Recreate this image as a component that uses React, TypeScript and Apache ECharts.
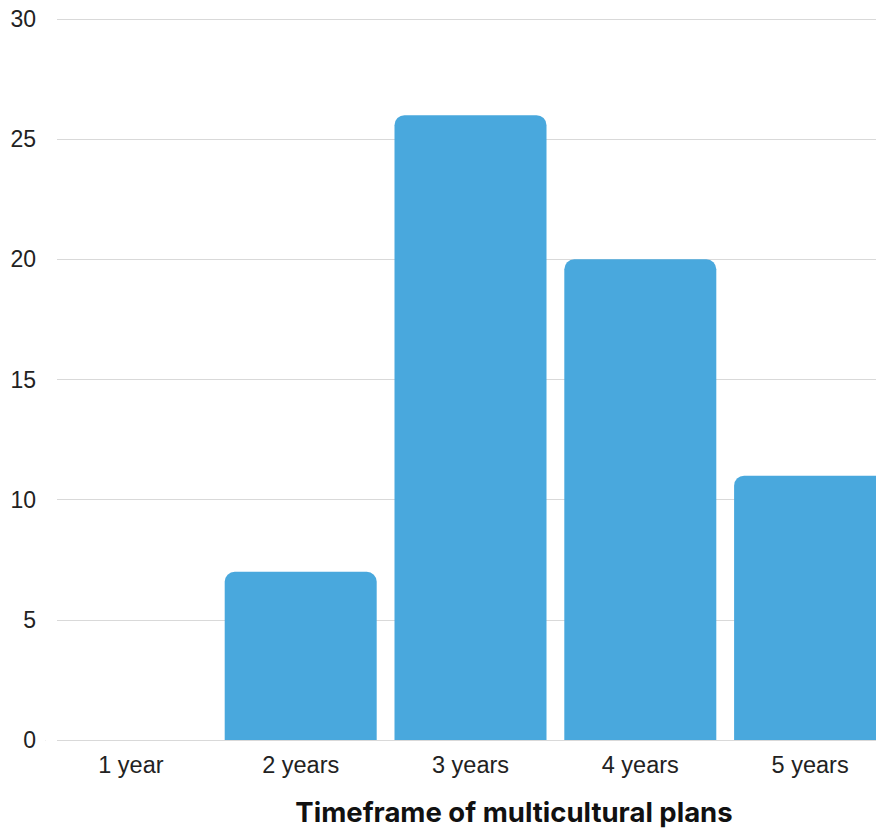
import React, { useEffect, useRef } from "react";
import * as echarts from "echarts";

const categories = ["1 year", "2 years", "3 years", "4 years", "5 years"];
const counts = [0, 7, 26, 20, 11];
const yTicks = { min: 0, max: 30, interval: 5 };
const xTitle = "Timeframe of multicultural plans";

export default function App() {
  const ref = useRef<HTMLDivElement>(null);
  useEffect(() => {
    if (!ref.current) return;
    const chart = echarts.init(ref.current, null, { renderer: "svg" });
    chart.setOption({
      animation: false,
      grid: { left: 46, right: 1, top: 19, bottom: 91, containLabel: false },
      xAxis: {
        type: "category",
        data: categories,
        axisLine: { show: true, lineStyle: { color: "#d9d9d9", width: 1 } },
        axisTick: { show: false },
        axisLabel: {
          color: "#222",
          fontSize: 23.5,
          fontFamily: "Liberation Sans, Arial, sans-serif",
          margin: 13,
        },
      },
      yAxis: {
        type: "value",
        min: yTicks.min,
        max: yTicks.max,
        interval: yTicks.interval,
        axisLine: { show: false },
        axisTick: { show: false },
        splitLine: { lineStyle: { color: "#d9d9d9", width: 1 } },
        axisLabel: {
          color: "#222",
          fontSize: 23,
          fontFamily: "Liberation Sans, Arial, sans-serif",
          margin: 10,
        },
      },
      series: [
        {
          type: "bar",
          data: counts,
          barWidth: 152,
          itemStyle: { color: "#49a8dd", borderRadius: [10, 10, 0, 0] },
        },
      ],
      graphic: [
        {
          type: "rect",
          left: 46,
          top: 10,
          shape: { width: 11, height: 740 },
          style: { fill: "#fff" },
          z: 100,
        },
        {
          type: "text",
          x: 514,
          y: 812,
          style: {
            text: xTitle,
            fill: "#111",
            fontSize: 27.5,
            fontWeight: "bold",
            fontFamily: "Inter, Open Sans, sans-serif",
            align: "center",
            verticalAlign: "middle",
          },
        },
      ],
    });
    return () => chart.dispose();
  }, []);
  return (
    <div
      style={{
        position: "absolute",
        left: 0,
        top: 0,
        width: 876,
        height: 831,
        overflow: "hidden",
      }}
    >
      <div ref={ref} style={{ width: 896, height: 831 }} />
    </div>
  );
}
